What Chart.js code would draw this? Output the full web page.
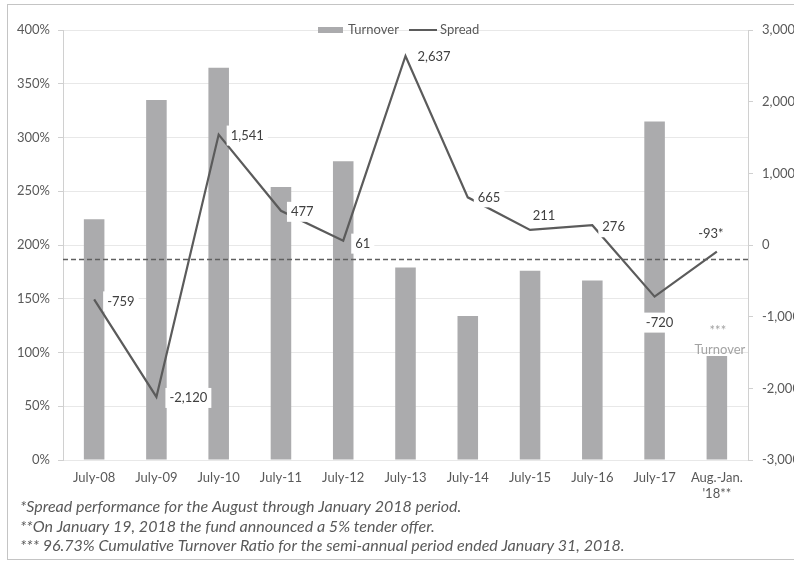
<!DOCTYPE html>
<html><head><meta charset="utf-8">
<script src="https://cdn.jsdelivr.net/npm/chart.js@4/dist/chart.umd.min.js"></script>
<style>html,body{margin:0;padding:0;background:#fff}#wrap{width:794px;height:563px;position:relative}canvas{display:block}</style>
</head><body><div id="wrap"><canvas id="c" width="794" height="563"></canvas></div>
<script>
const categories = [["July-08"],["July-09"],["July-10"],["July-11"],["July-12"],["July-13"],["July-14"],["July-15"],["July-16"],["July-17"],["Aug.-Jan.","'18**"]];
const turnover = [224, 335, 365, 254, 278, 179, 134, 176, 167, 315, 96.73];
const spread = [-759, -2120, 1541, 477, 61, 2637, 665, 211, 276, -720, -93];
const spreadLabelSuffix = ["", "", "", "", "", "", "", "", "", "", "*"];
const leftTickRange = [0, 400, 50];
const rightTickRange = [-3000, 3000, 1000];
const referenceLevel = 187;
const footnotes = [
  "*Spread performance for the August through January 2018 period.",
  "**On January 19, 2018 the fund announced a 5% tender offer.",
  "*** 96.73% Cumulative Turnover Ratio for the semi-annual period ended January 31, 2018."
];
const turnoverNote = ["***", "Turnover"];

// label placement (styling only): [dx, dy, align, whiteBox]
const labelPlacement = [
  [13, 2, "left", true], [13, 1, "left", true], [12, 1, "left", true], [10, 1, "left", true],
  [12, 3, "left", true], [12, 1, "left", true], [10, 0, "left", true], [14, -14, "center", true],
  [10, 2, "left", true], [5, 26, "center", true], [-6, -18, "center", false]
];

const FONT = "Lato, 'Open Sans', sans-serif";
const TEXT = "#595959";
const BAR = "#ababad";
const LINE = "#5b5b5b";

const fmt = v => v.toLocaleString("en-US");

const overlay = {
  id: "overlay",
  beforeDraw(chart) {
    const c = chart.ctx;
    c.save();
    c.fillStyle = "#fff";
    c.fillRect(0, 0, chart.width, chart.height);
    c.strokeStyle = "#c4c4c4";
    c.lineWidth = 1;
    c.strokeRect(7.5, 4.5, 800, 555);
    c.restore();
  },
  afterDatasetsDraw(chart) {
    const c = chart.ctx;
    const ca = chart.chartArea;
    const yL = chart.scales.y;
    c.save();
    c.strokeStyle = "#5f5f5f";
    c.lineWidth = 1.3;
    c.setLineDash([5, 3]);
    const ry = Math.round(yL.getPixelForValue(referenceLevel)) + 0.5;
    c.beginPath(); c.moveTo(ca.left, ry); c.lineTo(ca.right, ry); c.stroke();
    c.restore();

    const meta = chart.getDatasetMeta(1);
    c.save();
    c.font = "13px " + FONT;
    c.textBaseline = "middle";
    meta.data.forEach((pt, i) => {
      const [dx, dy, align, box] = labelPlacement[i];
      const txt = fmt(spread[i]) + spreadLabelSuffix[i];
      const w = c.measureText(txt).width;
      const x = pt.x + dx, y = pt.y + dy;
      let left = align === "left" ? x : x - w / 2;
      if (box) {
        c.fillStyle = "#fff";
        c.fillRect(left - 4, y - 10, w + 8, 20);
      }
      c.fillStyle = "#404040";
      c.textAlign = "left";
      c.fillText(txt, left, y);
    });
    c.restore();

    const bar = chart.getDatasetMeta(0).data[10];
    c.save();
    c.font = "13px " + FONT;
    c.fillStyle = "#a3a3a3";
    c.textAlign = "center";
    c.textBaseline = "middle";
    c.fillText(turnoverNote[0], bar.x + 1, 331);
    c.fillText(turnoverNote[1], bar.x + 3, 350);
    c.restore();

    c.save();
    c.font = "13px " + FONT;
    c.textBaseline = "middle";
    c.fillStyle = BAR;
    c.fillRect(318, 27, 25, 6);
    c.fillStyle = TEXT;
    c.textAlign = "left";
    c.fillText("Turnover", 348, 30);
    c.strokeStyle = LINE;
    c.lineWidth = 2;
    c.beginPath(); c.moveTo(409, 30); c.lineTo(437, 30); c.stroke();
    c.fillText("Spread", 440, 30);
    c.restore();

    c.save();
    c.font = "italic 16px " + FONT;
    c.fillStyle = TEXT;
    c.textAlign = "left";
    c.textBaseline = "middle";
    footnotes.forEach((t, i) => c.fillText(t, 20, 507 + i * 19.5));
    c.restore();
  }
};

new Chart(document.getElementById("c"), {
  data: {
    labels: categories,
    datasets: [
      { type: "bar", label: "Turnover", data: turnover, yAxisID: "y", backgroundColor: BAR,
        barPercentage: 0.33, categoryPercentage: 1, order: 2 },
      { type: "line", label: "Spread", data: spread, yAxisID: "y1", borderColor: LINE,
        borderWidth: 2.2, pointRadius: 0, tension: 0, order: 1 }
    ]
  },
  options: {
    responsive: false,
    devicePixelRatio: 1,
    animation: false,
    layout: { padding: { top: 30, left: 0, right: 0, bottom: 0 } },
    plugins: { legend: { display: false }, tooltip: { enabled: false } },
    scales: {
      x: {
        grid: { display: false, drawTicks: false },
        border: { display: false },
        ticks: { color: TEXT, font: { family: FONT, size: 13 }, padding: 10, maxRotation: 0, autoSkip: false },
        afterFit(s) { s.height = 103; }
      },
      y: {
        position: "left",
        min: leftTickRange[0], max: leftTickRange[1],
        ticks: { stepSize: leftTickRange[2], color: TEXT, font: { family: FONT, size: 13 }, padding: 8,
                 callback: v => v + "%" },
        grid: { color: "#e8e8e8", tickLength: 5, tickColor: "#d0d0d0" },
        border: { display: true, color: "#d0d0d0" },
        afterFit(s) { s.width = 63; }
      },
      y1: {
        position: "right",
        min: rightTickRange[0], max: rightTickRange[1],
        ticks: { stepSize: rightTickRange[2], color: TEXT, font: { family: FONT, size: 13 }, padding: 9,
                 callback: v => fmt(v) },
        grid: { drawOnChartArea: false, tickLength: 5, color: "#d0d0d0" },
        border: { display: true, color: "#d0d0d0" },
        afterFit(s) { s.width = 46; }
      }
    }
  },
  plugins: [overlay]
});
</script>
</body></html>
